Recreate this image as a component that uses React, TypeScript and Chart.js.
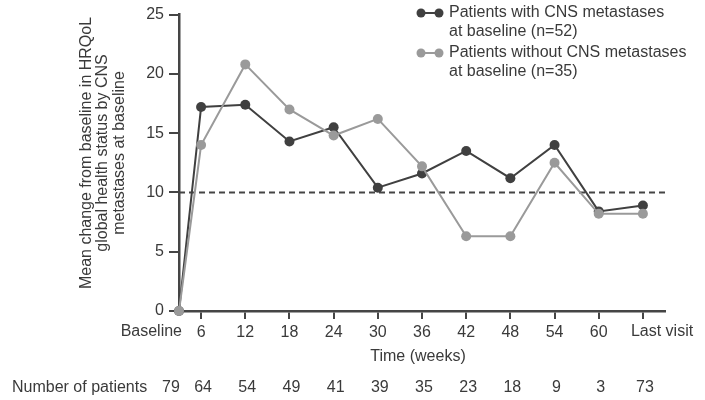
import React, { useEffect, useRef } from "react";
import { Chart, registerables } from "chart.js";

Chart.register(...registerables);

const xLabels = ["Baseline", "6", "12", "18", "24", "30", "36", "42", "48", "54", "60", "Last visit"];
const withCns = [0, 17.2, 17.4, 14.3, 15.5, 10.4, 11.6, 13.5, 11.2, 14.0, 8.4, 8.9];
const withoutCns = [0, 14.0, 20.8, 17.0, 14.8, 16.2, 12.2, 6.3, 6.3, 12.5, 8.2, 8.2];
const patients = [79, 64, 54, 49, 41, 39, 35, 23, 18, 9, 3, 73];
const yTicks = [0, 5, 10, 15, 20, 25];
const refValue = 10;
const seriesNames = [
  ["Patients with CNS metastases", "at baseline (n=52)"],
  ["Patients without CNS metastases", "at baseline (n=35)"],
];
const yTitle = ["Mean change from baseline in HRQoL", "global health status by CNS", "metastases at baseline"];
const xTitle = "Time (weeks)";
const rowTitle = "Number of patients";

const FONT = "'Liberation Sans', Arial, Helvetica, sans-serif";
const TEXT = "#3a3a3a";
const AXIS = "#454545";
const DARK = "#404040";
const LIGHT = "#9a9a9a";

const pos = (i: number) => (i === 0 ? 0.5 : i);
const lastIdx = xLabels.length - 1;

export default function App() {
  const ref = useRef<HTMLCanvasElement | null>(null);

  useEffect(() => {
    document.body.style.margin = "0";
    const canvas = ref.current;
    if (!canvas) return;

    const overlay = {
      id: "overlay",
      beforeDatasetsDraw(chart: any) {
        const { ctx, chartArea, scales } = chart;
        const y = scales.y.getPixelForValue(refValue);
        ctx.save();
        ctx.strokeStyle = AXIS;
        ctx.lineWidth = 2;
        ctx.setLineDash([6, 4]);
        ctx.beginPath();
        ctx.moveTo(chartArea.left, y);
        ctx.lineTo(chartArea.right, y);
        ctx.stroke();
        ctx.restore();
      },
      afterDraw(chart: any) {
        const { ctx, scales } = chart;
        const xs = scales.x;
        ctx.save();
        ctx.font = `16px ${FONT}`;
        ctx.fillStyle = TEXT;
        ctx.textBaseline = "middle";

        // Baseline label
        ctx.textAlign = "right";
        ctx.fillText(xLabels[0], xs.getPixelForValue(pos(0)) + 3, 332);
        // Last visit label
        ctx.textAlign = "left";
        ctx.fillText(xLabels[lastIdx], xs.getPixelForValue(pos(lastIdx)) - 12, 332);

        // x title
        ctx.textAlign = "center";
        ctx.fillText(xTitle, (chart.chartArea.left + chart.chartArea.right) / 2 - 4, 357);

        // Number of patients row
        ctx.textAlign = "left";
        ctx.fillText(rowTitle, 12, 388);
        ctx.textAlign = "center";
        patients.forEach((n, i) => {
          const px = xs.getPixelForValue(pos(i)) + (i === 0 ? -8 : 2);
          ctx.fillText(String(n), px, 388);
        });

        // y title
        ctx.save();
        ctx.translate(103, 153);
        ctx.rotate(-Math.PI / 2);
        ctx.textAlign = "center";
        yTitle.forEach((line, i) => {
          ctx.fillText(line, 0, (i - 1) * 16.7);
        });
        ctx.restore();

        // legend
        const colors = [DARK, LIGHT];
        const rows = [[13, 32], [53, 72]];
        seriesNames.forEach((lines, k) => {
          const my = rows[k][0];
          ctx.strokeStyle = colors[k];
          ctx.fillStyle = colors[k];
          ctx.lineWidth = 2;
          ctx.beginPath();
          ctx.moveTo(421, my);
          ctx.lineTo(439, my);
          ctx.stroke();
          [421, 439].forEach((cx) => {
            ctx.beginPath();
            ctx.arc(cx, my, 4.5, 0, Math.PI * 2);
            ctx.fill();
          });
          ctx.fillStyle = TEXT;
          ctx.textAlign = "left";
          lines.forEach((t, j) => ctx.fillText(t, 449, rows[k][j]));
        });
        ctx.restore();
      },
    };

    const chart = new Chart(canvas, {
      type: "line",
      data: {
        datasets: [
          {
            label: seriesNames[0].join(" "),
            data: withCns.map((v, i) => ({ x: pos(i), y: v })),
            borderColor: DARK,
            backgroundColor: DARK,
            pointBackgroundColor: DARK,
            pointBorderWidth: 0,
            pointRadius: 5,
            borderWidth: 2,
            clip: false as any,
            order: 2,
          },
          {
            label: seriesNames[1].join(" "),
            data: withoutCns.map((v, i) => ({ x: pos(i), y: v })),
            borderColor: LIGHT,
            backgroundColor: LIGHT,
            pointBackgroundColor: LIGHT,
            pointBorderWidth: 0,
            pointRadius: 5,
            borderWidth: 2,
            clip: false as any,
            order: 1,
          },
        ],
      },
      options: {
        responsive: false,
        animation: false,
        layout: { padding: { left: 0, right: 40, top: 10, bottom: 0 } },
        plugins: { legend: { display: false }, tooltip: { enabled: false } },
        scales: {
          x: {
            type: "linear",
            min: 0.5,
            max: 11.5,
            afterFit: (s: any) => {
              s.height = 89;
            },
            afterBuildTicks: (s: any) => {
              s.ticks = xLabels.slice(1).map((_, i) => ({ value: i + 1 }));
            },
            ticks: {
              font: { size: 16, family: FONT },
              color: TEXT,
              padding: 4,
              maxRotation: 0,
              autoSkip: false,
              callback: (v: any) => (Number(v) === lastIdx ? "" : xLabels[Number(v)] ?? ""),
            },
            grid: { drawOnChartArea: false, drawTicks: true, tickLength: 8, color: AXIS, lineWidth: 2 },
            border: { display: true, color: AXIS, width: 2.5 },
          },
          y: {
            min: 0,
            max: 25,
            afterFit: (s: any) => {
              s.width = 179;
            },
            afterBuildTicks: (s: any) => {
              s.ticks = yTicks.map((v) => ({ value: v }));
            },
            ticks: {
              font: { size: 16, family: FONT },
              color: TEXT,
              padding: 5,
            },
            grid: { drawOnChartArea: false, drawTicks: true, tickLength: 10, color: AXIS, lineWidth: 2 },
            border: { display: true, color: AXIS, width: 2.5 },
          },
        },
      },
      plugins: [overlay],
    });

    return () => chart.destroy();
  }, []);

  return <canvas ref={ref} width={705} height={400} style={{ display: "block" }} />;
}
